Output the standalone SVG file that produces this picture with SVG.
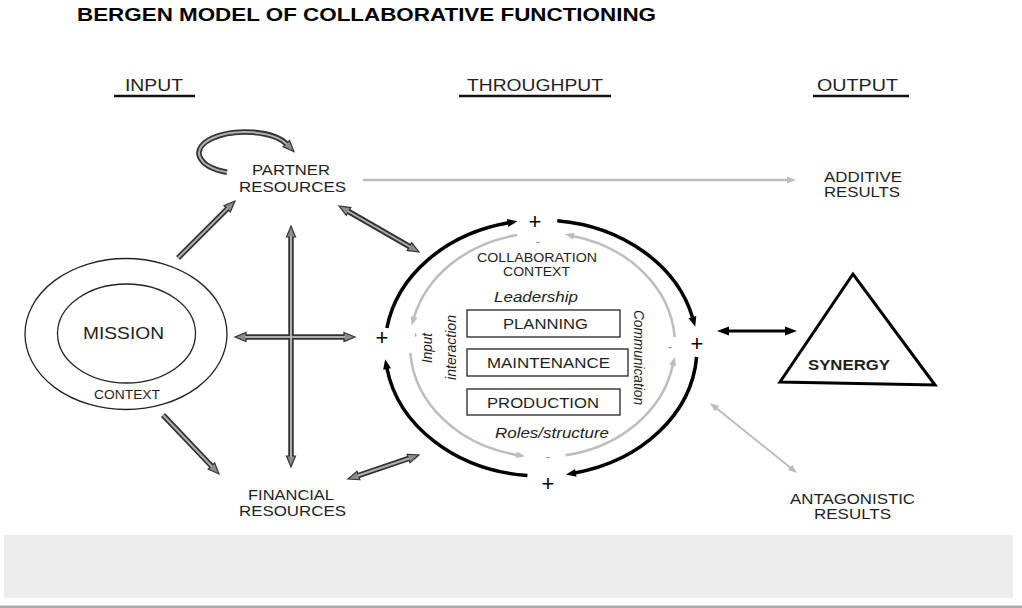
<svg xmlns="http://www.w3.org/2000/svg" width="1022" height="608" viewBox="0 0 1022 608">
<style>
text{font-family:"Liberation Sans",Arial,Helvetica,sans-serif;fill:#1e1e1e}
.ttl{font-size:18.5px;font-weight:bold;fill:#000}
.hdr{font-size:17px}
.lbl{font-size:15px}
.sm{font-size:12.5px}
.box{font-size:15px}
.it{font-size:14px;font-style:italic}
.pl{font-size:22px;fill:#000}
.mi{font-size:13px;fill:#888}
.ul{stroke:#111;stroke-width:2.5}
.so{fill:none;stroke:#333;stroke-width:5.5}
.si{fill:none;stroke:#b0b0b0;stroke-width:2}
.bk{fill:none;stroke:#000;stroke-width:3.5}
.gy{fill:none;stroke:#bdbdbd;stroke-width:2.5}
.rb{fill:#fff;stroke:#222;stroke-width:1.3}
</style>
<defs>
<marker id="hh" viewBox="0 0 11 9" refX="1" refY="4.5" markerWidth="11" markerHeight="9" markerUnits="userSpaceOnUse" orient="auto-start-reverse" overflow="visible"><path d="M0,0 L11,4.5 L0,9 Z" fill="#8c8c8c" stroke="#333" stroke-width="1.2" stroke-linejoin="miter"/></marker>
<marker id="bh" viewBox="0 0 10 8" refX="1" refY="4" markerWidth="10" markerHeight="8" markerUnits="userSpaceOnUse" orient="auto-start-reverse" overflow="visible"><path d="M0,0 L10,4 L0,8 Z" fill="#000"/></marker>
<marker id="bh2" viewBox="0 0 12 9" refX="1" refY="4.5" markerWidth="12" markerHeight="9" markerUnits="userSpaceOnUse" orient="auto-start-reverse" overflow="visible"><path d="M0,0 L12,4.5 L0,9 Z" fill="#000"/></marker>
<marker id="gh" viewBox="0 0 9 7" refX="1" refY="3.5" markerWidth="9" markerHeight="7" markerUnits="userSpaceOnUse" orient="auto-start-reverse" overflow="visible"><path d="M0,0 L9,3.5 L0,7 Z" fill="#bdbdbd"/></marker>
</defs>

<rect x="0" y="0" width="1022" height="608" fill="#fff"/>

<g id="title"><text class="ttl" x="77" y="21" textLength="579" lengthAdjust="spacingAndGlyphs">BERGEN MODEL OF COLLABORATIVE FUNCTIONING</text></g>

<g id="header-input"><text class="hdr" x="125" y="91" textLength="58" lengthAdjust="spacingAndGlyphs">INPUT</text><line class="ul" x1="114" y1="96" x2="195" y2="96"/></g>
<g id="header-throughput"><text class="hdr" x="467" y="91" textLength="136" lengthAdjust="spacingAndGlyphs">THROUGHPUT</text><line class="ul" x1="459" y1="96" x2="611" y2="96"/></g>
<g id="header-output"><text class="hdr" x="817" y="91" textLength="81" lengthAdjust="spacingAndGlyphs">OUTPUT</text><line class="ul" x1="813" y1="96" x2="909" y2="96"/></g>

<g id="partner-resources">
<text class="lbl" x="252" y="175" textLength="78" lengthAdjust="spacingAndGlyphs">PARTNER</text>
<text class="lbl" x="239" y="192" textLength="107" lengthAdjust="spacingAndGlyphs">RESOURCES</text>
</g>

<g id="financial-resources">
<text class="lbl" x="248" y="500" textLength="86" lengthAdjust="spacingAndGlyphs">FINANCIAL</text>
<text class="lbl" x="239" y="516" textLength="107" lengthAdjust="spacingAndGlyphs">RESOURCES</text>
</g>

<g id="mission">
<ellipse cx="126" cy="334" rx="101" ry="75.5" fill="none" stroke="#222" stroke-width="1.3"/>
<ellipse cx="126.5" cy="333.5" rx="69" ry="49.5" fill="none" stroke="#222" stroke-width="1.3"/>
<text x="83" y="339" font-size="17" textLength="81" lengthAdjust="spacingAndGlyphs">MISSION</text>
<text class="sm" x="94" y="399" textLength="66" lengthAdjust="spacingAndGlyphs">CONTEXT</text>
</g>

<g id="additive-results">
<text class="lbl" x="824" y="182" textLength="78" lengthAdjust="spacingAndGlyphs">ADDITIVE</text>
<text class="lbl" x="824" y="197" textLength="76" lengthAdjust="spacingAndGlyphs">RESULTS</text>
</g>

<g id="antagonistic-results">
<text class="lbl" x="790" y="504" textLength="125" lengthAdjust="spacingAndGlyphs">ANTAGONISTIC</text>
<text class="lbl" x="814" y="519" textLength="77" lengthAdjust="spacingAndGlyphs">RESULTS</text>
</g>

<g id="synergy">
<polygon points="853,274 780,382 935,385" fill="none" stroke="#000" stroke-width="3" stroke-linejoin="miter"/>
<text x="808" y="370" font-size="14.5" font-weight="bold" fill="#111" textLength="82" lengthAdjust="spacingAndGlyphs">SYNERGY</text>
</g>

<g id="collaboration-context">
<text class="sm" x="477" y="262" textLength="120" lengthAdjust="spacingAndGlyphs">COLLABORATION</text>
<text class="sm" x="503" y="276" textLength="67" lengthAdjust="spacingAndGlyphs">CONTEXT</text>
<text class="it" x="494" y="302" textLength="84" lengthAdjust="spacingAndGlyphs">Leadership</text>
<text class="it" x="495" y="438" textLength="114" lengthAdjust="spacingAndGlyphs">Roles/structure</text>
<text class="it" x="432" y="348" text-anchor="middle" transform="rotate(-90 432 348)" textLength="30" lengthAdjust="spacingAndGlyphs">Input</text>
<text class="it" x="456" y="347.5" text-anchor="middle" transform="rotate(-90 456 347.5)" textLength="65" lengthAdjust="spacingAndGlyphs">interaction</text>
<text class="it" x="634" y="357.5" text-anchor="middle" transform="rotate(90 634 357.5)" textLength="95" lengthAdjust="spacingAndGlyphs">Communication</text>
<text class="pl" x="535" y="229" text-anchor="middle">+</text>
<text class="pl" x="382" y="345" text-anchor="middle">+</text>
<text class="pl" x="697" y="351" text-anchor="middle">+</text>
<text class="pl" x="548" y="491" text-anchor="middle">+</text>
<text class="mi" x="538" y="246" text-anchor="middle">-</text>
<text class="mi" x="415" y="339" text-anchor="middle" transform="rotate(-90 415 335)">-</text>
<text class="mi" x="670" y="351" text-anchor="middle">-</text>
<text class="mi" x="548" y="461" text-anchor="middle">-</text>
</g>

<g id="planning"><rect class="rb" x="467" y="310" width="153" height="27"/><text class="box" x="503" y="329" textLength="85" lengthAdjust="spacingAndGlyphs">PLANNING</text></g>
<g id="maintenance"><rect class="rb" x="467" y="349" width="161" height="27"/><text class="box" x="487" y="368" textLength="123" lengthAdjust="spacingAndGlyphs">MAINTENANCE</text></g>
<g id="production"><rect class="rb" x="467" y="389" width="153" height="26"/><text class="box" x="487" y="408" textLength="112" lengthAdjust="spacingAndGlyphs">PRODUCTION</text></g>

<g id="connectors">
<path class="so" d="M227,172.3 A46,21 0 1 1 287,144.4" marker-end="url(#hh)"/>
<path class="si" d="M227,172.3 A46,21 0 1 1 287,144.4"/>
<path class="so" d="M178,258 L227.9,208.1" marker-end="url(#hh)"/>
<path class="si" d="M178,258 L227.9,208.1"/>
<path class="so" d="M163,415 L212.1,466.7" marker-end="url(#hh)"/>
<path class="si" d="M163,415 L212.1,466.7"/>
<path class="so" d="M291,236 L291,457" marker-start="url(#hh)" marker-end="url(#hh)"/>
<path class="so" d="M245,337 L345,337" marker-start="url(#hh)" marker-end="url(#hh)"/>
<path class="si" d="M291,236 L291,457"/>
<path class="si" d="M245,337 L345,337"/>
<path class="so" d="M347.7,211 L410.3,247" marker-start="url(#hh)" marker-end="url(#hh)"/>
<path class="si" d="M347.7,211 L410.3,247"/>
<path class="so" d="M357.5,475.8 L409.5,458.2" marker-start="url(#hh)" marker-end="url(#hh)"/>
<path class="si" d="M357.5,475.8 L409.5,458.2"/>
<path class="bk" d="M386.9,328 A156,128 0 0 1 508.6,222.8" marker-end="url(#bh)"/>
<path class="bk" d="M557.3,220.7 A156,128 0 0 1 692.7,318.1" marker-end="url(#bh)"/>
<path class="bk" d="M696.6,357 A156,128 0 0 1 574.8,473" marker-end="url(#bh)"/>
<path class="bk" d="M527.4,475.5 A156,128 0 0 1 386.9,368" marker-end="url(#bh)"/>
<path class="gy" d="M517.2,235.1 A132.5,112 0 0 0 413.9,317.9" marker-end="url(#gh)"/>
<path class="gy" d="M674.7,337.2 A132.5,112 0 0 0 572.8,235.9" marker-end="url(#gh)"/>
<path class="gy" d="M565.5,455.3 A132.5,112 0 0 0 672.9,364.6" marker-end="url(#gh)"/>
<path class="gy" d="M410.3,352.8 A132.5,112 0 0 0 517.2,454.9" marker-end="url(#gh)"/>
<path class="gy" d="M363,180 L788,180" marker-end="url(#gh)"/>
<path d="M728,331 L786,331" fill="none" stroke="#000" stroke-width="3" marker-start="url(#bh2)" marker-end="url(#bh2)"/>
<path d="M716.2,408 L790.8,468" fill="none" stroke="#bdbdbd" stroke-width="2" marker-start="url(#gh)" marker-end="url(#gh)"/>
</g>

<g id="footer-band">
<rect x="4" y="535" width="1009" height="63" fill="#ededed"/>
<rect x="0" y="605.5" width="1022" height="2.5" fill="#aaa"/>
</g>
</svg>
